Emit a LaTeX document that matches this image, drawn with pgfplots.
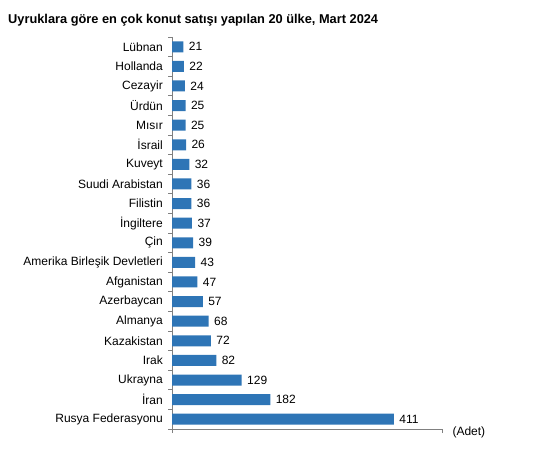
\documentclass[border=0pt]{standalone}
\usepackage{fontspec}
\setmainfont{Liberation Sans}
\usepackage{pgfplots}
\pgfplotsset{compat=1.18}
\definecolor{barblue}{RGB}{46,117,182}
\definecolor{axgray}{RGB}{128,128,128}
\begin{document}
\begin{tikzpicture}[x=1bp,y=1bp]
\path[use as bounding box] (0,0) rectangle (560,466);
\node[anchor=base west, inner sep=0pt, font=\fontsize{12.8bp}{14bp}\selectfont\bfseries] at (8,442) {Uyruklara göre en çok konut satışı yapılan 20 ülke, Mart 2024};
\begin{axis}[at={(172bp,37bp)}, anchor=south west, scale only axis,
  width=270bp, height=392bp,
  /pgf/number format/assume math mode=true,
  xbar, bar width=11bp,
  xmin=0, xmax=500, ymin=-0.5, ymax=19.5, y dir=reverse,
  axis lines*=left,
  axis line style={draw=axgray, line width=0.8bp},
  tick align=outside,
  tick style={draw=axgray, line width=0.8bp},
  major tick length=4bp,
  xtick={0,500}, xticklabels={},
  ytick={-0.5,0.5,...,19.5},
  yticklabels={Lübnan,Hollanda,Cezayir,Ürdün,Mısır,İsrail,Kuveyt,Suudi Arabistan,Filistin,İngiltere,Çin,Amerika Birleşik Devletleri,Afganistan,Azerbaycan,Almanya,Kazakistan,Irak,Ukrayna,İran,Rusya Federasyonu,{}},
  y tick label style={font=\fontsize{12bp}{14bp}\selectfont, inner sep=0pt, xshift=-5bp, yshift=-9.8bp},
  nodes near coords,
  nodes near coords style={font=\fontsize{12bp}{14bp}\selectfont, black, xshift=2bp},
  clip=false,
]
\addplot[fill=barblue, draw=none] coordinates {
(21,0) (22,1) (24,2) (25,3) (25,4) (26,5) (32,6) (36,7) (36,8) (37,9)
(39,10) (43,11) (47,12) (57,13) (68,14) (72,15) (82,16) (129,17) (182,18) (411,19)
};
\end{axis}
\node[anchor=west, font=\fontsize{12bp}{14bp}\selectfont] at (449,34) {(Adet)};
\end{tikzpicture}
\end{document}
